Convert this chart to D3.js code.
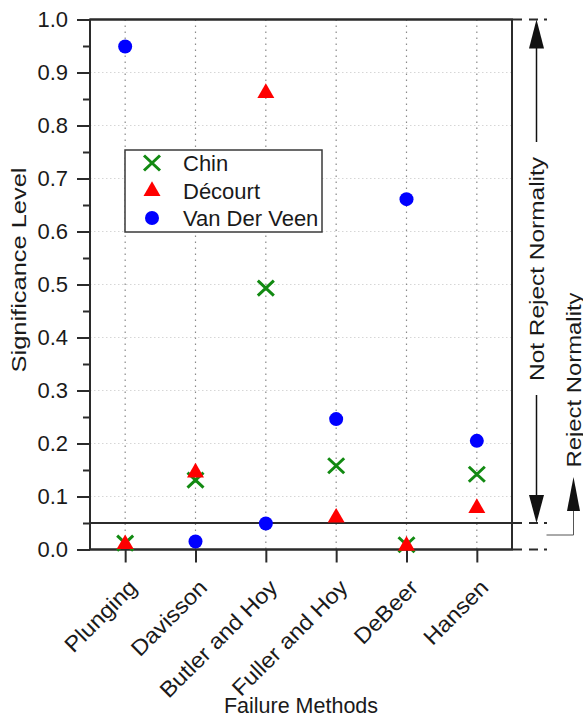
<!DOCTYPE html>
<html>
<head>
<meta charset="utf-8">
<script src="https://cdn.jsdelivr.net/npm/d3@7"></script>
<style>
  body { margin: 0; background: #fff; }
  text { font-family: "Liberation Sans", Arial, sans-serif; fill: #1a1a1a; }
</style>
</head>
<body>
<script>
// ---------------------- DATA ----------------------

const categories = ["Plunging", "Davisson", "Butler and Hoy", "Fuller and Hoy", "DeBeer", "Hansen"];
const chinValues = [0.012, 0.131, 0.493, 0.158, 0.009, 0.142];
const decourtValues = [0.010, 0.145, 0.861, 0.060, 0.007, 0.078];
const vanDerVeenValues = [0.949, 0.015, 0.049, 0.246, 0.661, 0.205];
const seriesNames = ["Chin", "Décourt", "Van Der Veen"];
const yTicks = [0, 0.1, 0.2, 0.3, 0.4, 0.5, 0.6, 0.7, 0.8, 0.9, 1.0];
const yMinorTicks = [0.05, 0.15, 0.25, 0.35, 0.45, 0.55, 0.65, 0.75, 0.85, 0.95];
const threshold = 0.05;

// ---------------------- SETUP ----------------------

const width = 583, height = 719;
const plot = { left: 90, right: 512, top: 19.5, bottom: 549.5 };

const svg = d3.select("body").append("svg")
    .attr("width", width)
    .attr("height", height);

const x = d3.scalePoint()
    .domain(categories)
    .range([plot.left, plot.right])
    .padding(0.5);

const y = d3.scaleLinear()
    .domain([0, 1])
    .range([plot.bottom, plot.top]);

const frameColor = "#2b2b2b";

// stretch a text along its reading direction (the source figure's text runs long)
function stretch(sel, factor) {
    sel.each(function() {
        const len = this.getComputedTextLength();
        d3.select(this)
            .attr("textLength", len * factor)
            .attr("lengthAdjust", "spacingAndGlyphs");
    });
}

// grid: horizontal light dotted at major ticks
svg.append("g")
    .selectAll("line")
    .data(yTicks.filter(d => d > 0 && d < 1))
    .enter().append("line")
    .attr("x1", plot.left).attr("x2", plot.right)
    .attr("y1", d => y(d)).attr("y2", d => y(d))
    .attr("stroke", "#d6d6d6")
    .attr("stroke-width", 1)
    .attr("stroke-dasharray", "1.5,2.5");

// grid: vertical dotted at categories
svg.append("g")
    .selectAll("line")
    .data(categories)
    .enter().append("line")
    .attr("x1", d => x(d)).attr("x2", d => x(d))
    .attr("y1", plot.top).attr("y2", plot.bottom)
    .attr("stroke", "#8a8a8a")
    .attr("stroke-width", 1.2)
    .attr("stroke-dasharray", "1.5,4.5");

// ---------------------- AXES ----------------------

const yAxis = svg.append("g")
    .attr("transform", `translate(${plot.left},0)`)
    .call(d3.axisLeft(y).tickValues(yTicks).tickSize(13).tickPadding(9).tickFormat(d3.format(".1f")));
yAxis.select(".domain").remove();
yAxis.selectAll("line").attr("stroke", frameColor).attr("stroke-width", 2);
yAxis.selectAll("text").style("font-size", "22px").attr("fill", "#1a1a1a");

const yMinor = svg.append("g")
    .attr("transform", `translate(${plot.left},0)`)
    .call(d3.axisLeft(y).tickValues(yMinorTicks).tickSize(7).tickFormat(""));
yMinor.select(".domain").remove();
yMinor.selectAll("line").attr("stroke", frameColor).attr("stroke-width", 2);

const xAxis = svg.append("g")
    .attr("transform", `translate(0,${plot.bottom})`)
    .call(d3.axisBottom(x).tickSize(13).tickFormat(""));
xAxis.select(".domain").remove();
xAxis.selectAll("line").attr("stroke", frameColor).attr("stroke-width", 2);

// rotated category labels
svg.append("g")
    .selectAll("text")
    .data(categories)
    .enter().append("text")
    .attr("transform", d => `translate(${x(d) + 13},589) rotate(-45)`)
    .attr("text-anchor", "end")
    .style("font-size", "22px")
    .text(d => d)
    .call(stretch, 1.07);

// frame and reference lines
svg.append("rect")
    .attr("x", plot.left).attr("y", plot.top)
    .attr("width", plot.right - plot.left).attr("height", plot.bottom - plot.top)
    .attr("fill", "none")
    .attr("stroke", frameColor)
    .attr("stroke-width", 2);

[1, threshold, 0].forEach(v => {
    svg.append("line")
        .attr("x1", plot.left).attr("x2", 522)
        .attr("y1", y(v)).attr("y2", y(v))
        .attr("stroke", frameColor).attr("stroke-width", 2);
    svg.append("line")
        .attr("x1", 529).attr("x2", 538)
        .attr("y1", y(v)).attr("y2", y(v))
        .attr("stroke", frameColor).attr("stroke-width", 2);
    svg.append("line")
        .attr("x1", 544).attr("x2", 547)
        .attr("y1", y(v)).attr("y2", y(v))
        .attr("stroke", frameColor).attr("stroke-width", 2);
});

// ---------------------- MARKERS ----------------------

const crossPath = "M-8,-7.5L8,7.5M-8,7.5L8,-7.5";
const triPath = d3.symbol().type(d3.symbolTriangle).size(125)();

function drawCross(g, cx, cy) {
    g.append("path")
        .attr("d", crossPath)
        .attr("transform", `translate(${cx},${cy})`)
        .attr("fill", "none")
        .attr("stroke", "#128a12")
        .attr("stroke-width", 3);
}
function drawTri(g, cx, cy) {
    g.append("path")
        .attr("d", triPath)
        .attr("transform", `translate(${cx},${cy})`)
        .attr("fill", "#ff0000");
}
function drawDot(g, cx, cy) {
    g.append("circle")
        .attr("cx", cx).attr("cy", cy).attr("r", 7)
        .attr("fill", "#0000ff");
}

const marks = svg.append("g");
categories.forEach((c, i) => drawCross(marks, x(c), y(chinValues[i])));
categories.forEach((c, i) => drawTri(marks, x(c), y(decourtValues[i])));
categories.forEach((c, i) => drawDot(marks, x(c), y(vanDerVeenValues[i])));

// ---------------------- LEGEND ----------------------

const legend = svg.append("g");
legend.append("rect")
    .attr("x", 125).attr("y", 150)
    .attr("width", 197).attr("height", 82)
    .attr("fill", "#fff")
    .attr("stroke", "#3a3a3a")
    .attr("stroke-width", 1.5);

const legendRows = [163, 191, 218];
const drawers = [drawCross, drawTri, drawDot];
seriesNames.forEach((name, i) => {
    drawers[i](legend, 152, legendRows[i]);
    legend.append("text")
        .attr("x", 183).attr("y", legendRows[i] + 8)
        .style("font-size", "22px")
        .text(name);
});

// ---------------------- TITLES ----------------------

svg.append("text")
    .attr("transform", "translate(26,270) rotate(-90)")
    .attr("text-anchor", "middle")
    .style("font-size", "21px")
    .text("Significance Level")
    .attr("textLength", 205)
    .attr("lengthAdjust", "spacingAndGlyphs");

svg.append("text")
    .attr("x", 301).attr("y", 713)
    .attr("text-anchor", "middle")
    .style("font-size", "21.5px")
    .text("Failure Methods");

// ---------------------- ANNOTATIONS ----------------------

const ann = svg.append("g");
const ax = 536.5;

// not reject: arrows up to 1.0 and down to the threshold
ann.append("line").attr("x1", ax).attr("x2", ax).attr("y1", 46).attr("y2", 142)
    .attr("stroke", "#111").attr("stroke-width", 1.5);
ann.append("path").attr("d", `M${ax},${y(1)}L${ax - 7.5},${y(1) + 29}L${ax + 7.5},${y(1) + 29}Z`).attr("fill", "#111");
ann.append("line").attr("x1", ax).attr("x2", ax).attr("y1", 395).attr("y2", 497)
    .attr("stroke", "#111").attr("stroke-width", 1.5);
ann.append("path").attr("d", `M${ax},${y(threshold)}L${ax - 7.5},${y(threshold) - 28}L${ax + 7.5},${y(threshold) - 28}Z`).attr("fill", "#111");

ann.append("text")
    .attr("transform", `translate(${ax + 7},269) rotate(-90)`)
    .attr("text-anchor", "middle")
    .style("font-size", "21px")
    .text("Not Reject Normality")
    .attr("textLength", 224)
    .attr("lengthAdjust", "spacingAndGlyphs");

// reject: elbow connector from the threshold band
const rx = 573.5;
ann.append("path")
    .attr("d", `M546.5,535H${rx}V508`)
    .attr("fill", "none")
    .attr("stroke", "#555").attr("stroke-width", 1);
ann.append("path").attr("d", `M${rx},477L${rx - 6.5},${511}L${rx + 6.5},${511}Z`).attr("fill", "#111");

ann.append("text")
    .attr("transform", `translate(${rx + 7},380) rotate(-90)`)
    .attr("text-anchor", "middle")
    .style("font-size", "21px")
    .text("Reject Normality")
    .attr("textLength", 175)
    .attr("lengthAdjust", "spacingAndGlyphs");
</script>
</body>
</html>
